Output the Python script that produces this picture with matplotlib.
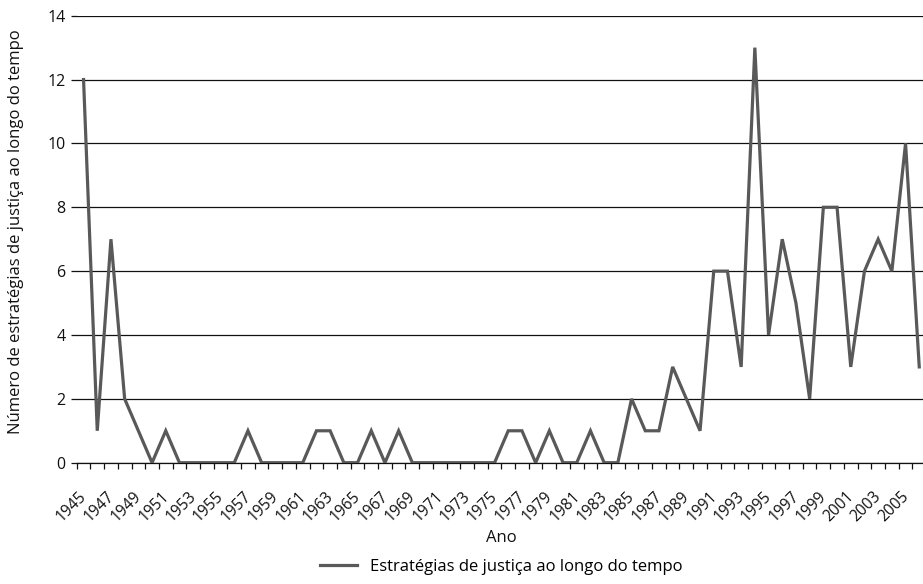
import matplotlib
matplotlib.use("Agg")
import matplotlib.pyplot as plt
import matplotlib.transforms as mtransforms
from matplotlib.ticker import FixedLocator

plt.rcParams['font.family'] = ['Open Sans', 'DejaVu Sans']

years = list(range(1945, 2007))
values = [12, 1, 7, 2, 1, 0, 1, 0, 0, 0, 0, 0, 1, 0, 0, 0, 0, 1, 1, 0,
          0, 1, 0, 1, 0, 0, 0, 0, 0, 0, 0, 1, 1, 0, 1, 0, 0, 1, 0, 0,
          2, 1, 1, 3, 2, 1, 6, 6, 3, 13, 4, 7, 5, 2, 8, 8, 3, 6, 7, 6,
          10, 3]
series_label = "Estratégias de justiça ao longo do tempo"
xlabel = "Ano"
ylabel = "Número de estratégias de justiça ao longo do tempo"
yticks = [0, 2, 4, 6, 8, 10, 12, 14]

W, H = 923, 584
fig = plt.figure(figsize=(W / 100, H / 100), dpi=100)
left = 76.7 / W
bottom = 1 - 462.7 / H
top = 1 - 15.7 / H
right = 926.1 / W
ax = fig.add_axes([left, bottom, right - left, top - bottom])

x = list(range(len(years)))
line, = ax.plot(x, values, color='#595959', lw=2.3, solid_joinstyle='miter',
                label=series_label, zorder=3)

ax.set_xlim(-0.5, len(years) - 0.5)
ax.set_ylim(0, 14)
ax.set_yticks(yticks)
ax.yaxis.grid(True, color='#111111', lw=0.9)
ax.set_axisbelow(True)
for s in ['left', 'right', 'top']:
    ax.spines[s].set_visible(False)
ax.spines['bottom'].set_color('#111111')
ax.spines['bottom'].set_linewidth(0.9)
ax.spines['bottom'].set_zorder(2)

ax.tick_params(axis='y', direction='out', length=4, width=0.9, color='#111111',
               labelsize=11.5, pad=4, labelcolor='#111111')

label_pos = [i for i, y in enumerate(years) if (y - 1945) % 2 == 0]
ax.set_xticks(label_pos)
ax.set_xticklabels([str(years[i]) for i in label_pos], rotation=45,
                   ha='right', rotation_mode='anchor', fontsize=11.2, color='#111111')
ax.tick_params(axis='x', which='major', length=0, pad=10)
ax.xaxis.set_minor_locator(FixedLocator([i - 0.5 for i in range(len(years) + 1)]))
ax.tick_params(axis='x', which='minor', direction='out', length=4, width=0.9, color='#111111')

offset = mtransforms.ScaledTranslation(-5 / 100, -12 / 100, fig.dpi_scale_trans)
for lab in ax.get_xticklabels():
    lab.set_transform(lab.get_transform() + offset)

fig.text(0.5 * (left + right), 1 - 538 / H, xlabel, ha='center', va='center',
         fontsize=12, color='#111111')
fig.text(16 / W, 1 - 232 / H, ylabel, ha='center', va='center', rotation=90,
         fontsize=12, color='#111111')

fig.legend(handles=[line], loc='center', bbox_to_anchor=(0.5 * (left + right), 1 - 567 / H),
           frameon=False, fontsize=12, handlelength=2.2, handletextpad=0.8,
           borderaxespad=0, borderpad=0)

fig.savefig("out.png", dpi=100)
